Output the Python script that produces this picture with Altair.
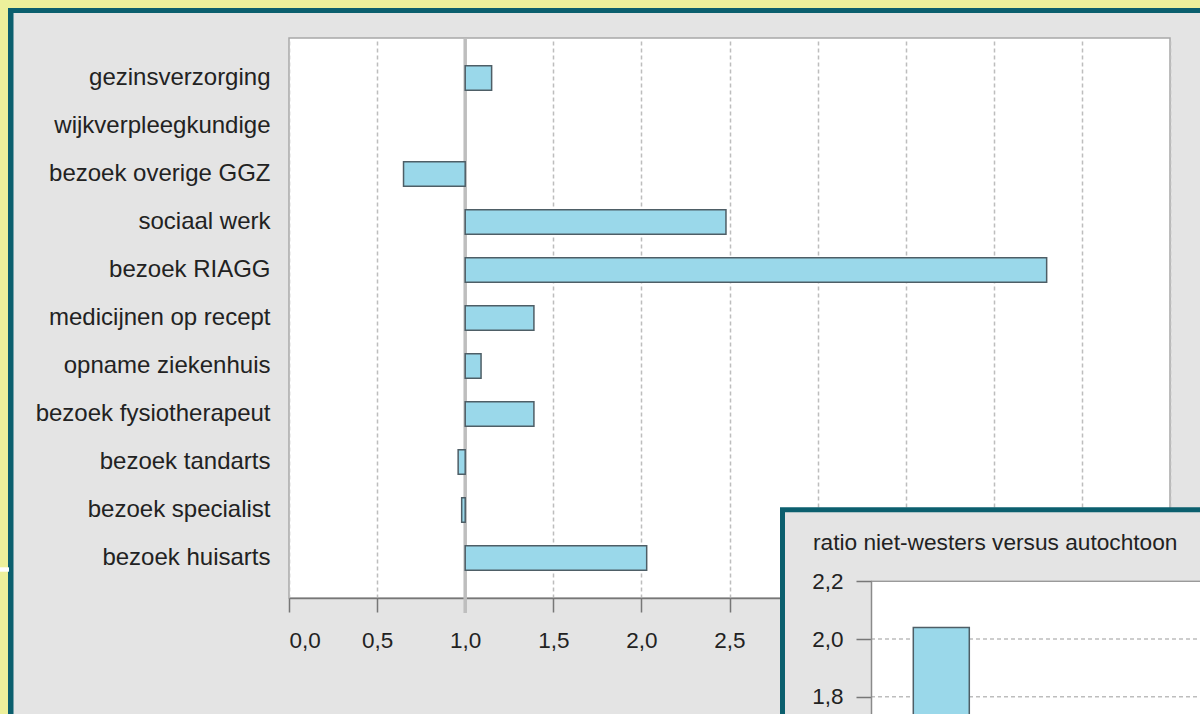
import altair as alt
import pandas as pd

# ---------------- data ----------------
categories = [
    "gezinsverzorging", "wijkverpleegkundige", "bezoek overige GGZ", "sociaal werk",
    "bezoek RIAGG", "medicijnen op recept", "opname ziekenhuis", "bezoek fysiotherapeut",
    "bezoek tandarts", "bezoek specialist", "bezoek huisarts",
]
ratios = [1.15, None, 0.65, 2.48, 4.30, 1.39, 1.09, 1.39, 0.96, 0.98, 2.03]
baseline = 1.0
x_ticks = [0.0, 0.5, 1.0, 1.5, 2.0, 2.5, 3.0, 3.5, 4.0, 4.5, 5.0]
x_label_max = 2.5  # labels further right are hidden behind the inset in the reference

inset_title = "ratio niet-westers versus autochtoon"
inset_categories = ["bezoek huisarts"]
inset_ratios = [2.04]
inset_base = 1.0
inset_ticks = [1.8, 2.0, 2.2]
inset_grid = [1.2, 1.4, 1.6, 1.8, 2.0]

# ---------------- style ----------------
FONT = "Liberation Sans"
YELLOW = "#EDF09B"
TEAL = "#0B5F6E"
GRAY = "#E4E4E4"
BAR = "#9AD8EA"
BAR_STROKE = "#4E5E66"
TEXT = "#222222"
W, H = 881, 560
LABEL_EXPR = "replace(format(datum.value, '.1f'), '.', ',')"
MAIN_LABEL_EXPR = (
    f"datum.value <= {x_label_max} ? replace(format(datum.value, '.1f'), '.', ',') : ''"
)

one = pd.DataFrame({"a": [0]})


def box(x1, x2, y1, y2, color):
    return alt.Chart(one).mark_rect(color=color).encode(
        x=alt.value(x1), x2=alt.value(x2), y=alt.value(y1), y2=alt.value(y2)
    )


# page edge and frame
decor = alt.layer(
    box(-289, -281, -38, 700, YELLOW),
    box(-289, 950, -38, -30, YELLOW),
    box(-281, -275.5, -30, 700, TEAL),
    box(-281, 950, -30, -25, TEAL),
    box(-289, -280, 529.3, 533.7, "white"),
)

# ---------------- main chart ----------------
df = pd.DataFrame({"category": categories, "ratio": ratios, "base": baseline})
xscale = alt.Scale(domain=[0, 5], nice=False, zero=False)

base_rule = alt.Chart(pd.DataFrame({"v": [baseline]})).mark_rule(
    color="#BEBEBE", strokeWidth=3.5
).encode(
    x=alt.X("v:Q", scale=xscale),
    y=alt.value(0),
    y2=alt.value(575),
)

bars = alt.Chart(df).transform_filter("isValid(datum.ratio)").mark_bar(
    fill=BAR, stroke=BAR_STROKE, strokeWidth=1.5
).encode(
    y=alt.Y(
        "category:N",
        sort=categories,
        scale=alt.Scale(domain=categories, paddingInner=0.49, paddingOuter=0.58),
        axis=alt.Axis(
            title=None, ticks=False, domain=False, labelFontSize=24,
            labelPadding=19, labelColor=TEXT, labelFont=FONT, labelLimit=400,
        ),
    ),
    x=alt.X(
        "ratio:Q",
        scale=xscale,
        axis=alt.Axis(
            title=None, values=x_ticks, labelExpr=MAIN_LABEL_EXPR, grid=True,
            gridDash=[4, 3], gridColor="#BDBDBD", gridWidth=1.5,
            tickSize=14, tickColor="#777777", tickWidth=1.5,
            domainColor="#777777", domainWidth=1.5,
            labelFontSize=22.5, labelPadding=17, labelColor=TEXT, labelFont=FONT,
        ),
    ),
    x2="base:Q",
)

main = alt.layer(base_rule, bars)

# ---------------- inset ----------------
iy = alt.Scale(domain=[1.0, 2.2], range=[889.5, 543.3], nice=False, zero=False)
ix = alt.Scale(domain=inset_categories, range=[624.3, 680.3], paddingInner=0, paddingOuter=0)

inset_df = pd.DataFrame({"category": inset_categories, "ratio": inset_ratios, "base": inset_base})

inset_grid_rules = alt.Chart(pd.DataFrame({"g": inset_grid})).mark_rule(
    color="#BDBDBD", strokeWidth=1.5, strokeDash=[4, 3]
).encode(
    y=alt.Y("g:Q", scale=iy),
    x=alt.value(582),
    x2=alt.value(950),
)

inset_top = alt.Chart(pd.DataFrame({"g": [2.2]})).mark_rule(
    color="#9A9A9A", strokeWidth=1.5
).encode(
    y=alt.Y("g:Q", scale=iy),
    x=alt.value(582),
    x2=alt.value(950),
)

inset_bars = alt.Chart(inset_df).mark_bar(
    fill=BAR, stroke=BAR_STROKE, strokeWidth=1.5
).encode(
    x=alt.X("category:N", scale=ix, axis=None),
    y=alt.Y("ratio:Q", scale=iy),
    y2="base:Q",
)

inset_label = alt.Chart(pd.DataFrame({"t": [inset_title]})).mark_text(
    align="left", baseline="middle", fontSize=22.7, font=FONT, color=TEXT
).encode(
    text="t:N",
    x=alt.value(524),
    y=alt.value(505),
)

inset = alt.layer(
    box(491, 950, 469.3, 720, TEAL),
    box(496, 950, 474.3, 720, GRAY),
    box(582, 950, 542.5, 720, "white"),
    inset_grid_rules,
    inset_top,
    inset_bars,
    inset_label,
).encode(
    y=alt.Y(
        "ratio:Q",
        scale=iy,
        axis=alt.Axis(
            orient="left", offset=-582, title=None, values=inset_ticks,
            labelExpr=LABEL_EXPR, grid=False, tickSize=15, tickColor="#777777",
            tickWidth=1.5, domainColor="#8A8A8A", domainWidth=1.5,
            labelFontSize=22.5, labelPadding=13, labelColor=TEXT, labelFont=FONT,
            zindex=1,
        ),
    )
)

chart = alt.layer(decor, main, inset).resolve_scale(
    x="independent", y="independent"
).properties(
    width=W,
    height=H,
    background=GRAY,
    autosize=alt.AutoSizeParams(type="none"),
    padding={"left": 289, "top": 38, "right": 30, "bottom": 116},
).configure_view(
    fill="white", stroke="#A8A8A8", strokeWidth=1.5
)

chart.save("out.html", embed_options={"renderer": "svg", "actions": False})
